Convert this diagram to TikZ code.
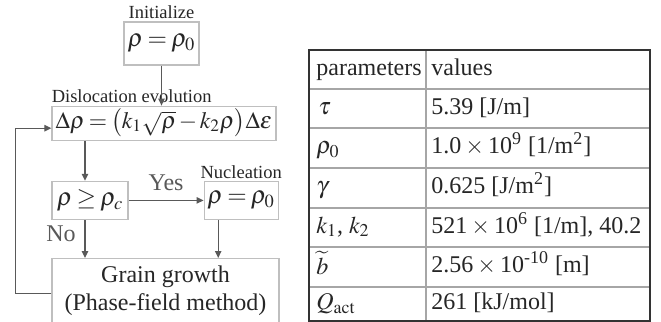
\documentclass[tikz,border=0pt]{standalone}
\usepackage{mathptmx}
\usepackage{fontspec}
\setmainfont{Liberation Serif}
\usepackage{tikz}
\usetikzlibrary{positioning,arrows.meta,calc}
\definecolor{frame}{HTML}{BFBFBF}
\definecolor{wire}{HTML}{595959}
\definecolor{ink}{HTML}{262626}
\newcommand\tightmath{\thickmuskip=3mu\relax\medmuskip=2mu\relax}

\begin{document}
\begin{tikzpicture}[x=0.5pt,y=-0.5pt,font=\fontsize{12}{14}\selectfont,text=ink,
  b/.style={draw=frame,line width=0.6pt,inner sep=0pt,align=center},
  eq/.style={font=\fontsize{12.5}{15}\selectfont},
  lbl/.style={font=\fontsize{9.25}{11}\selectfont,inner sep=0pt},
  arr/.style={-{Triangle[length=3.5pt,width=3.2pt]},line width=0.6pt,wire},
  cell/.style={anchor=west,inner sep=0pt,text height=8.5pt,text depth=3pt}]
\useasboundingbox (0,0) rectangle (661,322);
% flow chart
\node[b,eq,minimum width=37.5pt,minimum height=21.5pt] (init) at (161.5,43.5) {\tightmath$\rho=\rho_0$};
\node[b,font=\fontsize{11.75}{14}\selectfont,minimum width=112pt,text height=11pt,text depth=6pt,below=20pt of init,xshift=1.25pt] (evol) {\tightmath$\Delta\rho=\bigl(k_1\sqrt{\rho}-k_2\rho\bigr)\Delta\varepsilon$};
\node[b,eq,minimum width=38pt,minimum height=19pt,below=20pt of evol.south west,anchor=north west] (check) {\tightmath$\rho\geq\rho_c$};
\node[b,eq,minimum width=37pt,minimum height=19pt,right=37.5pt of check] (nucl) {\tightmath$\rho=\rho_0$};
\node[b,minimum width=113.5pt,minimum height=32.5pt,below=19pt of check.south west,anchor=north west] (grow) {Grain growth\\(Phase-field method)};
\node[lbl,above=1pt of init] (initlbl) {Initialize};
\node[lbl,above=1.5pt of evol.north west,anchor=south west] (evollbl) {Dislocation evolution};
\node[lbl,above=1pt of nucl] (nucllbl) {Nucleation};
\draw[arr] (init.south) -- (init.south |- evol.north);
\draw[arr] ([xshift=-2.5pt]check.north |- evol.south) -- ([xshift=-2.5pt]check.north);
\draw[arr] (check) -- node[above=1pt] (yes) {Yes} (nucl);
\draw[arr] ([xshift=-2.5pt]check.south) -- node[left=1pt,pos=0.35] (no) {No} ([xshift=-2.5pt]check.south |- grow.north);
\draw[arr] ([xshift=-11.5pt]nucl.south) -- ([xshift=-11.5pt]nucl.south |- grow.north);
\draw[arr] ([yshift=-1.25pt]grow.west) -- ++(-18pt,0) |- ([yshift=-2.5pt]evol.west);
% parameter table
\foreach \y in {89,128,168,208,247,287}
  \draw[black!35,line width=0.6pt] (309,\y) -- (650,\y);
\draw[black!35,line width=0.6pt] (426,50) -- (426,321);
\draw[black!80,line width=1.1pt] (309,50) rectangle (650,321);
\node[cell] (par0) at (316,69.5) {parameters};
\node[cell] (val0) at (431,69.5) {values};
\node[cell] (par1) at (318,108.5) {$\tau$};
\node[cell] (val1) at (431,108.5) {5.39 [J/m]};
\node[cell] (par2) at (316,148) {$\rho_0$};
\node[cell] (val2) at (431,148) {1.0\,$\times$\,10\textsuperscript{9} [1/m\textsuperscript{2}]};
\node[cell] (par3) at (316,188) {$\gamma$};
\node[cell] (val3) at (431,188) {0.625 [J/m\textsuperscript{2}]};
\node[cell] (par4) at (316,227.5) {$k_1$, $k_2$};
\node[cell] (val4) at (431,227.5) {521\,$\times$\,10\textsuperscript{6} [1/m], 40.2};
\node[cell] (par5) at (316,269) {$\widetilde{b}$};
\node[cell] (val5) at (431,267) {2.56\,$\times$\,10\textsuperscript{-10} [m]};
\node[cell] (par6) at (316,304) {$Q_{\mathrm{act}}$};
\node[cell] (val6) at (431,304) {261 [kJ/mol]};
\end{tikzpicture}
\end{document}
